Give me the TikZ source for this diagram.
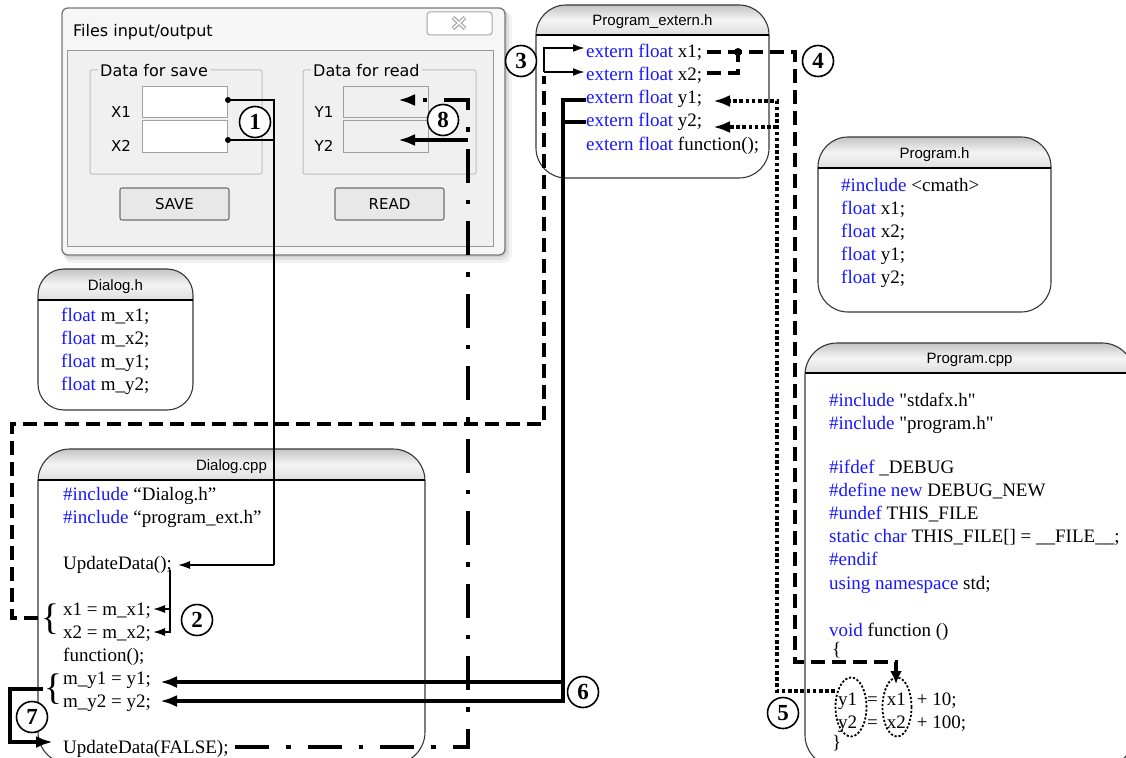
\documentclass[tikz,border=0pt]{standalone}
\usepackage{fontspec}
\setmainfont{Liberation Serif}
\newfontfamily\hdrfont{Liberation Sans}
\newfontfamily\winfont{DejaVu Sans}
\usetikzlibrary{arrows.meta,shapes.geometric}
\definecolor{kwblue}{RGB}{24,24,255}
\definecolor{boxln}{RGB}{55,55,55}
\definecolor{hdrtop}{RGB}{196,196,196}
\definecolor{hdrmid}{RGB}{244,244,244}
\definecolor{hdrbot}{RGB}{222,222,222}
\definecolor{winbg}{RGB}{240,240,240}
\definecolor{winedge}{RGB}{120,120,120}
\definecolor{grpln}{RGB}{190,190,190}
\definecolor{editln}{RGB}{160,160,160}
\definecolor{btnfill}{RGB}{232,232,232}
\definecolor{btnln}{RGB}{112,112,112}
\newcommand\kw[1]{\textcolor{kwblue}{#1}}
\newcommand\codesize{\fontsize{19}{23}\selectfont}
\newcommand\winsize{\winfont\fontsize{16}{19}\selectfont}
\newcommand\qq{\textquotedbl}
\newcommand\filebox[8]{%
  \begin{scope}
    \clip[rounded corners=#7pt] (#2,#3) rectangle (#4,#5);
    \fill[white] (#2,#3) rectangle (#4,#5);
    \shade[top color=hdrtop, bottom color=hdrbot, middle color=hdrmid] (#2,#3) rectangle (#4,#6);
  \end{scope}
  \draw[boxln, line width=1.1pt, rounded corners=#7pt] (#2,#3) rectangle (#4,#5);
  \draw[black, line width=1.4pt] (#2,#6) -- (#4,#6);
  \node[hdr] (#1) at ({(#2+#4)/2},{(#3+#6)/2+5.5}) {#8};
}
\begin{document}
\begin{tikzpicture}[x=1pt,y=-1pt,
  codeln/.style={anchor=base west, inner sep=0pt, font=\codesize},
  hdr/.style={anchor=base, inner sep=0pt, font=\hdrfont\fontsize{15}{18}\selectfont},
  wtext/.style={inner sep=0pt, font=\winsize},
  wsmall/.style={inner sep=0pt, font=\winfont\fontsize{15}{17}\selectfont},
  numc/.style={circle, draw, line width=1.6pt, fill=white, minimum size=31pt, inner sep=0pt, font=\fontsize{23}{23}\selectfont\bfseries},
  bracec/.style={inner sep=0pt, font=\fontsize{37}{37}\selectfont},
  thinc/.style={line width=1.6pt},
  medc/.style={line width=2pt},
  thickc/.style={line width=3.6pt},
  dashc/.style={line width=3.2pt, dash pattern=on 14pt off 7pt},
  dotc/.style={line width=3.8pt, dash pattern=on 3.6pt off 2.6pt},
  dashdotc/.style={line width=4.4pt, dash pattern=on 34pt off 17pt on 4.5pt off 17pt},
  tipthin/.style={-{Latex[length=12pt,width=8pt]}},
  tipthick/.style={-{Latex[length=17pt,width=12pt]}},
  ellc/.style={ellipse, draw, line width=1.8pt, dash pattern=on 2.2pt off 1.8pt, minimum width=31pt, minimum height=59pt, inner sep=0pt},
]
\useasboundingbox (0,0) rectangle (1126,757);
\fill[white] (0,0) rectangle (1126,757);

% ---------- dialog window ----------
\fill[black,opacity=0.05,rounded corners=9pt] (64,11) rectangle (512,263);
\fill[black,opacity=0.07,rounded corners=8pt] (63,10) rectangle (509,260);
\fill[black,opacity=0.08,rounded corners=7pt] (63,9) rectangle (507,257);
\draw[winedge, line width=1.3pt, fill=winbg!60!white, rounded corners=6pt] (62,8) rectangle (505,255);
\draw[grpln!80!black, line width=0.9pt, fill=winbg] (67,50) rectangle (493,246);
\node[wtext, anchor=base west] (wtitle) at (73,37) {Files input/output};
\draw[gray!70, line width=1pt, fill=white, rounded corners=3pt] (427,12) rectangle (492,35);
\draw[gray!70, line width=4pt] (453,17.5) -- (465,28.5) (453,28.5) -- (465,17.5);
\draw[white, line width=1.5pt] (453.5,18) -- (464.5,28) (453.5,28) -- (464.5,18);

\draw[grpln, line width=1pt, rounded corners=2pt] (90,70) rectangle (262,174);
\node[wtext, anchor=base west, fill=winbg, inner xsep=2pt] (gsave) at (98,77) {Data for save};
\draw[grpln, line width=1pt, rounded corners=2pt] (303,70) rectangle (476,174);
\node[wtext, anchor=base west, fill=winbg, inner xsep=2pt] (gread) at (311,77) {Data for read};

\draw[editln, line width=1pt, fill=white] (142,87) rectangle (227,118);
\draw[editln, line width=1pt, fill=white] (142,121) rectangle (227,152);
\draw[editln, line width=1pt, fill=winbg] (343,87) rectangle (428,118);
\draw[editln, line width=1pt, fill=winbg] (343,121) rectangle (428,152);
\node[wsmall] (lx1) at (121,112) {X1};
\node[wsmall] (lx2) at (121,146) {X2};
\node[wsmall] (ly1) at (324,112) {Y1};
\node[wsmall] (ly2) at (324,146) {Y2};

\draw[btnln, line width=1.1pt, fill=btnfill, rounded corners=2pt] (120,188) rectangle (229,220);
\node[wsmall] (bsave) at (174.5,204) {SAVE};
\draw[btnln, line width=1.1pt, fill=btnfill, rounded corners=2pt] (335,188) rectangle (444,220);
\node[wsmall] (bread) at (389.5,204) {READ};

% ---------- file boxes ----------
\filebox{hext}{536}{5}{769}{178}{35}{30}{Program\_extern.h}
\filebox{hprg}{818}{137}{1051}{312}{168}{30}{Program.h}
\filebox{hdlh}{38}{269}{193}{410}{300}{26}{Dialog.h}
\filebox{hdlc}{38}{449}{425}{764}{480}{32}{Dialog.cpp}
\filebox{hpcp}{805}{343}{1134}{767}{373}{32}{Program.cpp}

% Program_extern.h
\node[codeln] (e1) at (586,58) {\kw{extern float} x1;};
\node[codeln] (e2) at (586,81) {\kw{extern float} x2;};
\node[codeln] (e3) at (586,104) {\kw{extern float} y1;};
\node[codeln] (e4) at (586,127) {\kw{extern float} y2;};
\node[codeln] (e5) at (586,150) {\kw{extern float} function();};

% Program.h
\node[codeln] (h1) at (841,191) {\kw{\#include} <cmath>};
\node[codeln] (h2) at (841,214) {\kw{float} x1;};
\node[codeln] (h3) at (841,237) {\kw{float} x2;};
\node[codeln] (h4) at (841,260) {\kw{float} y1;};
\node[codeln] (h5) at (841,283) {\kw{float} y2;};

% Dialog.h
\node[codeln] (d1) at (61,321) {\kw{float} m\_x1;};
\node[codeln] (d2) at (61,344) {\kw{float} m\_x2;};
\node[codeln] (d3) at (61,367) {\kw{float} m\_y1;};
\node[codeln] (d4) at (61,390) {\kw{float} m\_y2;};

% Dialog.cpp
\node[codeln] (c1) at (63,500) {\kw{\#include} “Dialog.h”};
\node[codeln] (c2) at (63,523) {\kw{\#include} “program\_ext.h”};
\node[codeln] (c3) at (63,569) {UpdateData();};
\node[codeln] (c4) at (63,615) {x1 = m\_x1;};
\node[codeln] (c5) at (63,638) {x2 = m\_x2;};
\node[codeln] (c6) at (63,661) {function();};
\node[codeln] (c7) at (63,684) {m\_y1 = y1;};
\node[codeln] (c8) at (63,707) {m\_y2 = y2;};
\node[codeln] (c9) at (63,753) {UpdateData(FALSE);};
\node[bracec] (br1) at (50,619) {\{};
\node[bracec] (br2) at (53,689) {\{};

% Program.cpp
\node[codeln] (p1) at (829,406) {\kw{\#include} \qq stdafx.h\qq};
\node[codeln] (p2) at (829,429) {\kw{\#include} \qq program.h\qq};
\node[codeln] (p3) at (829,473) {\kw{\#ifdef} \_DEBUG};
\node[codeln] (p4) at (829,496) {\kw{\#define new} DEBUG\_NEW};
\node[codeln] (p5) at (829,519) {\kw{\#undef} THIS\_FILE};
\node[codeln] (p6) at (829,542) {\kw{static char} THIS\_FILE[] = \_\_FILE\_\_;};
\node[codeln] (p7) at (829,565) {\kw{\#endif}};
\node[codeln] (p8) at (829,589) {\kw{using namespace} std;};
\node[codeln] (p9) at (829,636) {\kw{void} function ()};
\node[codeln] (p10) at (832,655) {\{};
\node[codeln] (p11) at (838,705) {y1\hspace{10pt}=\hspace{9pt}x1\hspace{11pt}+ 10;};
\node[codeln] (p12) at (838,728) {y2\hspace{10pt}=\hspace{9pt}x2\hspace{11pt}+ 100;};
\node[codeln] (p13) at (832,748) {\}};
\node[ellc] (ey) at (851,707) {};
\node[ellc, minimum width=29pt] (ex) at (897,707) {};

% ---------- connectors ----------
% 1
\coordinate (k1a) at (228,100); \coordinate (k1b) at (228,140);
\coordinate (k1c) at (274,100); \coordinate (k1d) at (274,140);
\coordinate (k1e) at (274,565); \coordinate (k1f) at (178,565);
\draw[thinc] (k1a) -- (k1c) -- (k1e);
\draw[thinc] (k1b) -- (k1d);
\draw[thinc,tipthin] (k1e) -- (k1f);
\fill (k1a) circle[radius=3pt];
\fill (k1b) circle[radius=3pt];
% 2
\coordinate (k2a) at (170,570); \coordinate (k2b) at (170,609);
\coordinate (k2c) at (153,609); \coordinate (k2d) at (170,632);
\coordinate (k2e) at (153,632);
\draw[thinc,tipthin] (k2a) -- (k2d) -- (k2e);
\draw[thinc,tipthin] (k2b) -- (k2c);
% 3
\coordinate (k3a) at (38,618); \coordinate (k3b) at (12,618);
\coordinate (k3c) at (12,424); \coordinate (k3d) at (544,424);
\coordinate (k3e) at (544,76); \coordinate (k3f) at (544,72);
\coordinate (k3g) at (544,48); \coordinate (k3h) at (585,48);
\coordinate (k3i) at (585,72);
\draw[dashc] (k3a) -- (k3b) -- (k3c) -- (k3d) -- (k3e);
\draw[medc,tipthin] (k3f) -- (k3g) -- (k3h);
\draw[medc,tipthin] (k3f) -- (k3i);
% 4
\coordinate (k4a) at (707,52); \coordinate (k4b) at (795,52);
\coordinate (k4c) at (795,662); \coordinate (k4d) at (896,662);
\coordinate (k4e) at (896,684);
\coordinate (k4f) at (707,73); \coordinate (k4g) at (738,73);
\coordinate (k4h) at (738,52);
\draw[dashc,-{Latex[length=13pt,width=12pt]}] (k4a) -- (k4b) -- (k4c) -- (k4d) -- (k4e);
\draw[dashc] (k4f) -- (k4g) -- (k4h);
\fill (k4h) circle[radius=4pt];
% 5
\coordinate (k5a) at (835,691); \coordinate (k5b) at (777,691);
\coordinate (k5c) at (777,101); \coordinate (k5d) at (713,101);
\coordinate (k5e) at (777,127); \coordinate (k5f) at (713,127);
\draw[dotc,tipthick] (k5a) -- (k5b) -- (k5c) -- (k5d);
\draw[dotc,tipthick] (k5e) -- (k5f);
% 6
\coordinate (k6a) at (586,100); \coordinate (k6b) at (563,100);
\coordinate (k6c) at (563,701); \coordinate (k6d) at (160,701);
\coordinate (k6e) at (586,122); \coordinate (k6f) at (563,122);
\coordinate (k6g) at (563,682); \coordinate (k6h) at (160,682);
\draw[thickc,tipthick] (k6a) -- (k6b) -- (k6c) -- (k6d);
\draw[thickc] (k6e) -- (k6f);
\draw[thickc,tipthick] (k6g) -- (k6h);
% 7
\coordinate (k7a) at (43,689); \coordinate (k7b) at (10,689);
\coordinate (k7c) at (10,742); \coordinate (k7d) at (53,742);
\draw[thickc,tipthick] (k7a) -- (k7b) -- (k7c) -- (k7d);
% 8
\coordinate (k8a) at (235,747); \coordinate (k8b) at (468,747);
\coordinate (k8c) at (468,100); \coordinate (k8d) at (398,100);
\coordinate (k8e) at (468,140); \coordinate (k8f) at (398,140);
\draw[dashdotc,tipthick] (k8a) -- (k8b) -- (k8c) -- (k8d);
\draw[thickc,tipthick] (k8e) -- (k8f);

% ---------- numbered circles ----------
\node[numc] (n1) at (255,122) {1};
\node[numc] (n2) at (197,620) {2};
\node[numc] (n3) at (521,61) {3};
\node[numc] (n4) at (818,61) {4};
\node[numc] (n5) at (783,713) {5};
\node[numc] (n6) at (583,692) {6};
\node[numc] (n7) at (32,717) {7};
\node[numc] (n8) at (443,120) {8};
\end{tikzpicture}
\end{document}
